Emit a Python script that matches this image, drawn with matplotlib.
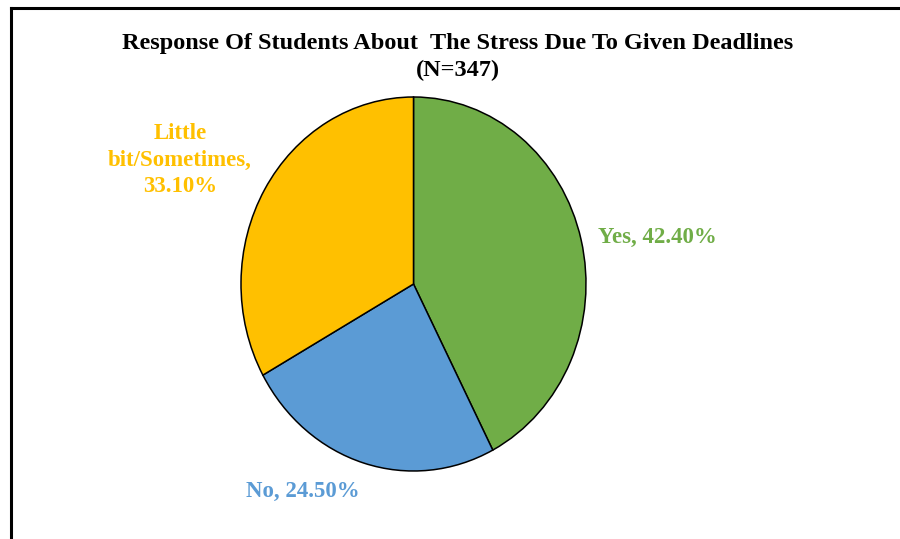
import matplotlib.pyplot as plt

labels = ["Yes", "No", "Little\nbit/Sometimes"]
shares = [42.40, 24.50, 33.10]
colors = ["#70AD47", "#5B9BD5", "#FFC000"]

title = "Response Of Students About  The Stress Due To Given Deadlines\n(N=347)"

W, H = 900, 539
fig = plt.figure(figsize=(W / 100, H / 100), dpi=100)
fig.patch.set_facecolor("white")

# frame lines along top and left edge
fig.add_artist(plt.Line2D([11 / W, 11 / W], [0, 1 - 8 / H], color="black", lw=2.2,
                          transform=fig.transFigure))
fig.add_artist(plt.Line2D([11 / W, 1], [1 - 8 / H, 1 - 8 / H], color="black", lw=2.2,
                          transform=fig.transFigure))

# pie axes, slightly taller than wide
px0, px1, py0, py1 = 241, 586, 97, 471
ax = fig.add_axes([px0 / W, 1 - py1 / H, (px1 - px0) / W, (py1 - py0) / H])
wedges, _ = ax.pie(shares, colors=colors, startangle=90, counterclock=False,
                   wedgeprops=dict(edgecolor="black", linewidth=1.1))
ax.set_aspect("auto")
ax.set_xlim(-1, 1)
ax.set_ylim(-1, 1)
ax.axis("off")

font = dict(family="Liberation Serif", fontweight="bold")

fig.text(458 / W, 1 - 57 / H, title, ha="center", va="center", fontsize=17.5,
         linespacing=1.38, color="black", **font)

label_pos = [(657, 237), (303, 491), (180, 160)]
for lab, val, col, (x, y) in zip(labels, shares, colors, label_pos):
    fig.text(x / W, 1 - y / H, f"{lab},\n{val:.2f}%" if "\n" in lab else f"{lab}, {val:.2f}%",
             ha="center", va="center", fontsize=16.5, color=col, linespacing=1.32, **font)

fig.savefig("out.png", dpi=100, facecolor="white")
